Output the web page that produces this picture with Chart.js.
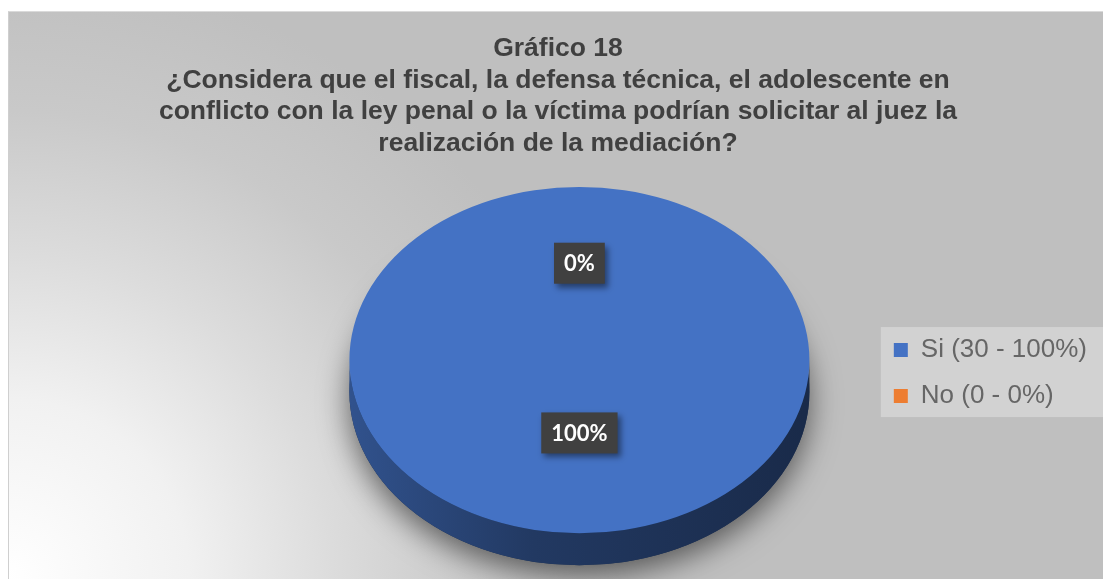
<!DOCTYPE html>
<html lang="es">
<head>
<meta charset="utf-8">
<title>Gráfico 18</title>
<script src="https://cdn.jsdelivr.net/npm/chart.js@4.4.1/dist/chart.umd.min.js"></script>
<style>
  html, body { margin: 0; padding: 0; background: #fff; }
  #frame {
    position: absolute; left: 8px; top: 11px;
    width: 1094px; height: 567px;
    border-left: 1px solid #cfcfcf; border-top: 1px solid #dadada;
    background: radial-gradient(circle 720px at 0% 100%, #ffffff 0%, #f1f1f1 25%, #dcdcdc 45%, #c9c9c9 65%, #bfbfbf 85%, #bfbfbf 100%);
  }
  canvas { display: block; }
</style>
</head>
<body>
<div id="frame"><canvas id="chart"></canvas></div>
<script>
const categories = ['Si', 'No'];
const counts = [30, 0];
const percents = [100, 0];
const colors = ['#4472C4', '#ED7D31'];
const titleLines = [
  'Gráfico 18',
  '¿Considera que el fiscal, la defensa técnica, el adolescente en',
  'conflicto con la ley penal o la víctima podrían solicitar al juez la',
  'realización de la mediación?',
];

const TILT = 0.753;      // vertical squash of the top face
const DEPTH = 32;        // thickness of the pie
const SPACER_W = 266;    // empty band left of the plot, pushes the pie right
const LABEL_POS = 0.49;
const LABEL_LIFT = 12;

function shade(hex, f) {
  const n = parseInt(hex.slice(1), 16);
  const r = Math.round(((n >> 16) & 255) * f);
  const g = Math.round(((n >> 8) & 255) * f);
  const b = Math.round((n & 255) * f);
  return `rgb(${r},${g},${b})`;
}

// parts of [s, e] that face the viewer (lower half of the ellipse)
function frontRanges(s, e) {
  const out = [];
  for (let k = -1; k <= 2; k++) {
    const a = Math.max(s, 2 * Math.PI * k);
    const b = Math.min(e, 2 * Math.PI * k + Math.PI);
    if (b > a) out.push([a, b]);
  }
  return out;
}

const leftSpacer = {
  id: 'leftSpacer',
  beforeInit(chart) {
    Chart.layouts.addBox(chart, {
      position: 'left', weight: 10, fullSize: false, options: {},
      left: 0, top: 0, right: 0, bottom: 0, width: 0, height: 0,
      isHorizontal() { return false; },
      update(maxWidth, maxHeight) { this.width = SPACER_W; this.height = maxHeight; },
      draw() {},
    });
  },
};

const legendBg = {
  id: 'legendBg',
  beforeDraw(chart) {
    const hb = chart.legend && chart.legend.legendHitBoxes;
    if (!hb || !hb.length) return;
    const ctx = chart.ctx;
    const last = hb[hb.length - 1];
    const x = hb[0].left - 13;
    const y = hb[0].top - 10;
    ctx.save();
    ctx.fillStyle = 'rgba(255,255,255,0.3)';
    ctx.fillRect(x, y, chart.width - x, last.top + last.height + 8 - y);
    ctx.restore();
  },
};

let tilted = false;
const pie3d = {
  id: 'pie3d',
  beforeDatasetsDraw(chart) {
    const ctx = chart.ctx;
    const arcs = chart.getDatasetMeta(0).data;
    if (!arcs.length) return;
    const { x: cx, y: cy, outerRadius: r } = arcs[0];
    const ry = r * TILT;

    // soft shadow under the solid
    ctx.save();
    ctx.shadowColor = 'rgba(0,0,0,0.55)';
    ctx.shadowBlur = 30;
    ctx.shadowOffsetY = 10;
    ctx.fillStyle = shade(colors[0], 0.4);
    ctx.beginPath();
    ctx.ellipse(cx, cy + DEPTH, r, ry, 0, 0, Math.PI * 2);
    ctx.fill();
    ctx.restore();

    // side walls
    arcs.forEach((arc, i) => {
      const base = colors[i % colors.length];
      const grad = ctx.createLinearGradient(cx - r, 0, cx + r, 0);
      grad.addColorStop(0, shade(base, 0.72));
      grad.addColorStop(0.4, shade(base, 0.5));
      grad.addColorStop(1, shade(base, 0.37));
      frontRanges(arc.startAngle, arc.endAngle).forEach(([a, b]) => {
        ctx.beginPath();
        ctx.ellipse(cx, cy, r, ry, 0, a, b);
        ctx.lineTo(cx + r * Math.cos(b), cy + ry * Math.sin(b) + DEPTH);
        ctx.ellipse(cx, cy + DEPTH, r, ry, 0, b, a, true);
        ctx.closePath();
        ctx.fillStyle = grad;
        ctx.fill();
      });
    });

    // squash the top face drawn by Chart.js
    ctx.save();
    ctx.translate(cx, cy);
    ctx.scale(1, TILT);
    ctx.translate(-cx, -cy);
    tilted = true;
  },
  afterDatasetsDraw(chart) {
    const ctx = chart.ctx;
    if (!tilted) return;
    ctx.restore();
    tilted = false;

    const arcs = chart.getDatasetMeta(0).data;
    const { x: cx, y: cy, outerRadius: r } = arcs[0];
    ctx.save();
    ctx.font = 'bold 22px Lato, "Open Sans", sans-serif';
    ctx.textAlign = 'center';
    ctx.textBaseline = 'middle';
    arcs.forEach((arc, i) => {
      const mid = (arc.startAngle + arc.endAngle) / 2;
      const lx = cx + Math.cos(mid) * r * LABEL_POS;
      const ly = cy + Math.sin(mid) * r * LABEL_POS * TILT - LABEL_LIFT;
      const text = percents[i] + '%';
      const w = ctx.measureText(text).width + 20;
      const h = 41;
      ctx.shadowColor = 'rgba(0,0,0,0.45)';
      ctx.shadowBlur = 6;
      ctx.shadowOffsetX = 3;
      ctx.shadowOffsetY = 4;
      ctx.fillStyle = '#404040';
      ctx.fillRect(lx - w / 2, ly - h / 2, w, h);
      ctx.shadowColor = 'transparent';
      ctx.fillStyle = '#ffffff';
      ctx.fillText(text, lx, ly + 1);
    });
    ctx.restore();
  },
};

new Chart(document.getElementById('chart'), {
  type: 'pie',
  data: {
    labels: categories,
    datasets: [{
      data: counts,
      backgroundColor: colors,
      borderWidth: 0,
      radius: 230,
    }],
  },
  options: {
    responsive: true,
    maintainAspectRatio: false,
    animation: false,
    events: [],
    layout: { padding: { left: 10, right: 6, top: 0, bottom: 18 } },
    plugins: {
      title: {
        display: true,
        text: titleLines,
        color: '#404040',
        font: { family: "'Liberation Sans', Arial, sans-serif", size: 26.5, weight: 'bold', lineHeight: 1.19 },
        padding: { top: 21, bottom: 0 },
      },
      legend: {
        position: 'right',
        fullSize: false,
        title: { display: true, text: '', font: { size: 26, lineHeight: 1 }, padding: 0 },
        labels: {
          boxWidth: 14,
          boxHeight: 14,
          padding: 20,
          color: '#404040',
          font: { family: "'Liberation Sans', Arial, sans-serif", size: 26 },
          generateLabels() {
            return categories.map((c, i) => ({
              text: `${c} (${counts[i]} - ${percents[i]}%)`,
              fillStyle: colors[i],
              strokeStyle: colors[i],
              lineWidth: 0,
              hidden: false,
              index: i,
              datasetIndex: 0,
            }));
          },
        },
      },
      tooltip: { enabled: false },
    },
  },
  plugins: [leftSpacer, legendBg, pie3d],
});
</script>
</body>
</html>
